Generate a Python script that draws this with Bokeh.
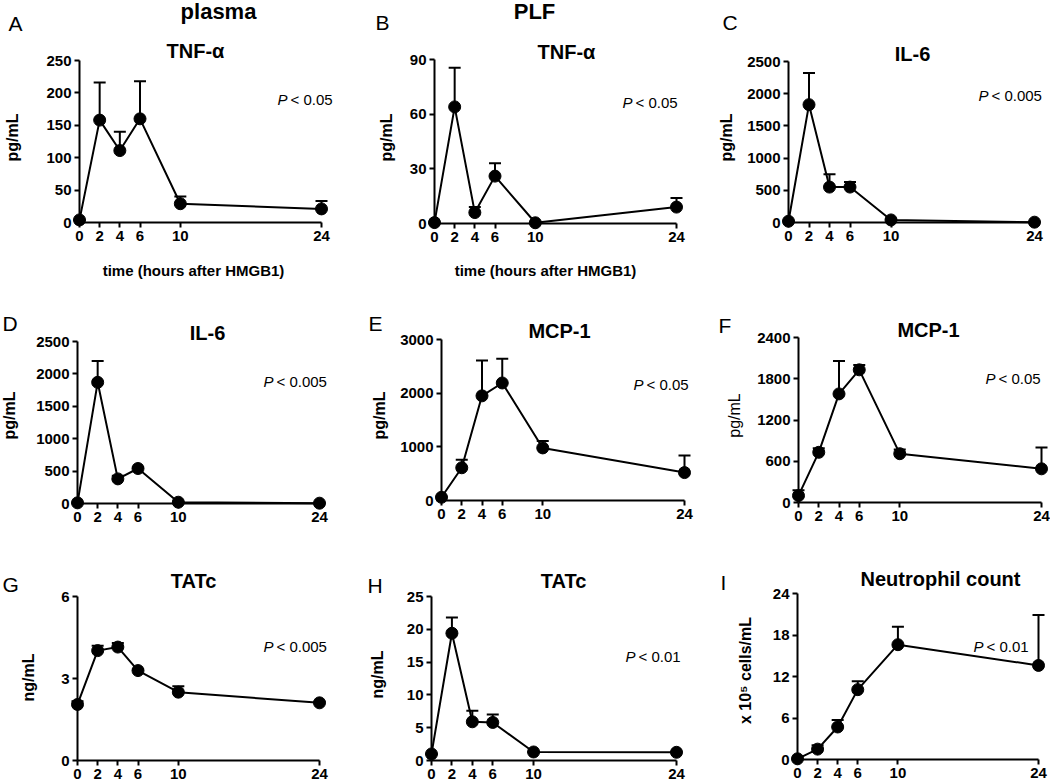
import math
from bokeh.plotting import figure
from bokeh.layouts import gridplot
from bokeh.models import Range1d, FixedTicker, Label, Whisker, TeeHead, ColumnDataSource
from bokeh.embed import file_html
from bokeh.resources import INLINE

# ---------------- data ----------------
hours = [0, 2, 4, 6, 10, 24]
hour_ticks = [0, 2, 4, 6, 10, 24]

tnf_plasma = [4, 158, 111, 160, 29, 21]
tnf_plasma_sem = [0, 58, 29, 58, 11, 12]
tnf_plf = [0.5, 64, 6, 26, 0.4, 9]
tnf_plf_sem = [0, 21.5, 3, 7, 0, 5]
il6_c = [20, 1830, 550, 550, 40, 5]
il6_c_sem = [0, 490, 200, 80, 20, 0]
il6_d = [10, 1870, 380, 540, 20, 5]
il6_d_sem = [0, 330, 50, 20, 0, 0]
mcp1_e = [60, 610, 1950, 2190, 980, 520]
mcp1_e_sem = [0, 150, 660, 450, 130, 320]
mcp1_f = [100, 730, 1580, 1930, 710, 490]
mcp1_f_sem = [80, 60, 480, 70, 60, 310]
tatc_g = [2.05, 4.02, 4.15, 3.29, 2.5, 2.11]
tatc_g_sem = [0.12, 0.18, 0.15, 0.05, 0.22, 0.04]
tatc_h = [1.0, 19.4, 5.9, 5.8, 1.3, 1.25]
tatc_h_sem = [0, 2.4, 1.7, 1.2, 0, 0]
neutro = [0.1, 1.5, 4.7, 10.1, 16.6, 13.6]
neutro_sem = [0, 0.55, 1.0, 1.2, 2.6, 7.3]

yticks_A = [0, 50, 100, 150, 200, 250]
yticks_B = [0, 30, 60, 90]
yticks_C = [0, 500, 1000, 1500, 2000, 2500]
yticks_E = [0, 1000, 2000, 3000]
yticks_F = [0, 600, 1200, 1800, 2400]
yticks_G = [0, 3, 6]
yticks_H = [0, 5, 10, 15, 20, 25]
yticks_I = [0, 6, 12, 18, 24]

# ---------------- layout (page pixels) ----------------
COL_X = [0, 350, 700]
COL_W = [350, 350, 350]
ROW_Y = [0, 282, 530]
ROW_H = [282, 248, 252]

FONT = "Liberation Sans"

panels = [
    dict(col=0, row=0, yax=79, x24=321, ytop=60, xax=222, vals=tnf_plasma, sem=tnf_plasma_sem,
         yticks=yticks_A, letter=("A", 8, 23), title=("TNF-\u03b1", 195, 50), pval=("< 0.05", 277, 99),
         ylabel=("pg/mL", 12, 137), header=("plasma", 218, 11), xlabel=("time (hours after HMGB1)", 193, 270)),
    dict(col=1, row=0, yax=434, x24=676, ytop=59, xax=223, vals=tnf_plf, sem=tnf_plf_sem,
         yticks=yticks_B, letter=("B", 375, 22), title=("TNF-\u03b1", 566, 51), pval=("< 0.05", 622, 102),
         ylabel=("pg/mL", 386, 137), header=("PLF", 534, 11), xlabel=("time (hours after HMGB1)", 545, 270)),
    dict(col=2, row=0, yax=788, x24=1034, ytop=61, xax=222, vals=il6_c, sem=il6_c_sem,
         yticks=yticks_C, letter=("C", 722, 22), title=("IL-6", 912, 53), pval=("< 0.005", 978, 95),
         ylabel=("pg/mL", 726, 137)),
    dict(col=0, row=1, yax=77, x24=319, ytop=341, xax=503, vals=il6_d, sem=il6_d_sem,
         yticks=yticks_C, letter=("D", 2, 323), title=("IL-6", 207, 332), pval=("< 0.005", 263, 381),
         ylabel=("pg/mL", 9, 415)),
    dict(col=1, row=1, yax=441, x24=684, ytop=339, xax=500, vals=mcp1_e, sem=mcp1_e_sem,
         yticks=yticks_E, letter=("E", 368, 323), title=("MCP-1", 559, 330), pval=("< 0.05", 633, 384),
         ylabel=("pg/mL", 379, 415)),
    dict(col=2, row=1, yax=798, x24=1041, ytop=337, xax=502, vals=mcp1_f, sem=mcp1_f_sem,
         yticks=yticks_F, letter=("F", 718, 325), title=("MCP-1", 928, 329), pval=("< 0.05", 985, 378),
         ylabel=("pg/mL", 734, 415), ylabel_weight="normal"),
    dict(col=0, row=2, yax=77, x24=319, ytop=596, xax=760, vals=tatc_g, sem=tatc_g_sem,
         yticks=yticks_G, letter=("G", 2, 584), title=("TATc", 193, 580), pval=("< 0.005", 263, 646),
         ylabel=("ng/mL", 28, 677)),
    dict(col=1, row=2, yax=431, x24=676, ytop=596, xax=760, vals=tatc_h, sem=tatc_h_sem,
         yticks=yticks_H, letter=("H", 367, 585), title=("TATc", 563, 580), pval=("< 0.01", 625, 656),
         ylabel=("ng/mL", 377, 674)),
    dict(col=2, row=2, yax=797, x24=1038, ytop=593, xax=759, vals=neutro, sem=neutro_sem,
         yticks=yticks_I, letter=("I", 720, 582), title=("Neutrophil count", 940, 578), pval=("< 0.01", 973, 646),
         ylabel=("x 10\u2075 cells/mL", 745, 670)),
]


def make_panel(spec):
    col, row = spec["col"], spec["row"]
    cx0, cw = COL_X[col], COL_W[col]
    ry0, rh = ROW_Y[row], ROW_H[row]
    yax, x24, ytop, xax = spec["yax"], spec["x24"], spec["ytop"], spec["xax"]
    ymax = spec["yticks"][-1]
    sx = (x24 - yax) / 24.0
    sy = (xax - ytop) / float(ymax)

    def dx(px):
        return (px - yax) / sx

    def dy(py):
        return (xax - py) / sy

    p = figure(width=cw, height=rh,
               x_range=Range1d(dx(cx0), dx(cx0 + cw)),
               y_range=Range1d(dy(ry0 + rh), dy(ry0)),
               min_border_left=0, min_border_right=0,
               min_border_top=0, min_border_bottom=0,
               output_backend="svg", toolbar_location=None)
    p.outline_line_color = None
    p.grid.visible = False
    p.background_fill_color = "white"
    p.border_fill_color = "white"

    for ax, ticks, bounds in ((p.xaxis[0], hour_ticks, (0, 24)), (p.yaxis[0], spec["yticks"], (0, ymax))):
        ax.fixed_location = 0
        ax.bounds = bounds
        ax.ticker = FixedTicker(ticks=ticks)
        ax.axis_line_width = 2
        ax.axis_line_color = "black"
        ax.major_tick_line_width = 2
        ax.major_tick_line_color = "black"
        ax.major_tick_out = 5
        ax.major_tick_in = 0
        ax.minor_tick_line_color = None
        ax.major_label_text_font = FONT
        ax.major_label_text_font_style = "bold"
        ax.major_label_text_font_size = "15px"
        ax.major_label_text_color = "black"
        ax.major_label_standoff = 3

    upper = [v + s for v, s in zip(spec["vals"], spec["sem"])]
    src = ColumnDataSource(dict(t=hours, v=spec["vals"], up=upper))
    wh = Whisker(base="t", upper="up", lower="v", source=src, dimension="height",
                 line_width=2, line_color="black",
                 upper_head=TeeHead(size=12, line_width=2, line_color="black"),
                 lower_head=None, level="underlay")
    p.add_layout(wh)
    p.line("t", "v", source=src, line_width=2, line_color="black")
    p.scatter("t", "v", source=src, size=12, fill_color="black", line_color="black")

    def lab(text, px, py, size, style="normal", align="center", angle=0.0):
        p.add_layout(Label(x=dx(px), y=dy(py), text=text, text_font=FONT, text_font_size=size,
                           text_font_style=style, text_align=align, text_baseline="middle",
                           text_color="black", angle=angle))

    t, x, y = spec["letter"]
    lab(t, x, y, "21px", align="left")
    t, x, y = spec["title"]
    lab(t, x, y, "20px", style="bold")
    t, x, y = spec["pval"]
    lab("P", x, y, "15px", style="italic", align="left")
    lab(t, x + 13, y, "15px", align="left")
    t, x, y = spec["ylabel"]
    lab(t, x, y, "16px", style=spec.get("ylabel_weight", "bold"), angle=math.pi / 2)
    if "header" in spec:
        t, x, y = spec["header"]
        lab(t, x, y, "22px", style="bold")
    if "xlabel" in spec:
        t, x, y = spec["xlabel"]
        lab(t, x, y, "15px", style="bold")
    return p


figs = [make_panel(s) for s in panels]
grid = gridplot([figs[0:3], figs[3:6], figs[6:9]], toolbar_location=None)

open("out.html", "w").write(file_html(grid, INLINE))
